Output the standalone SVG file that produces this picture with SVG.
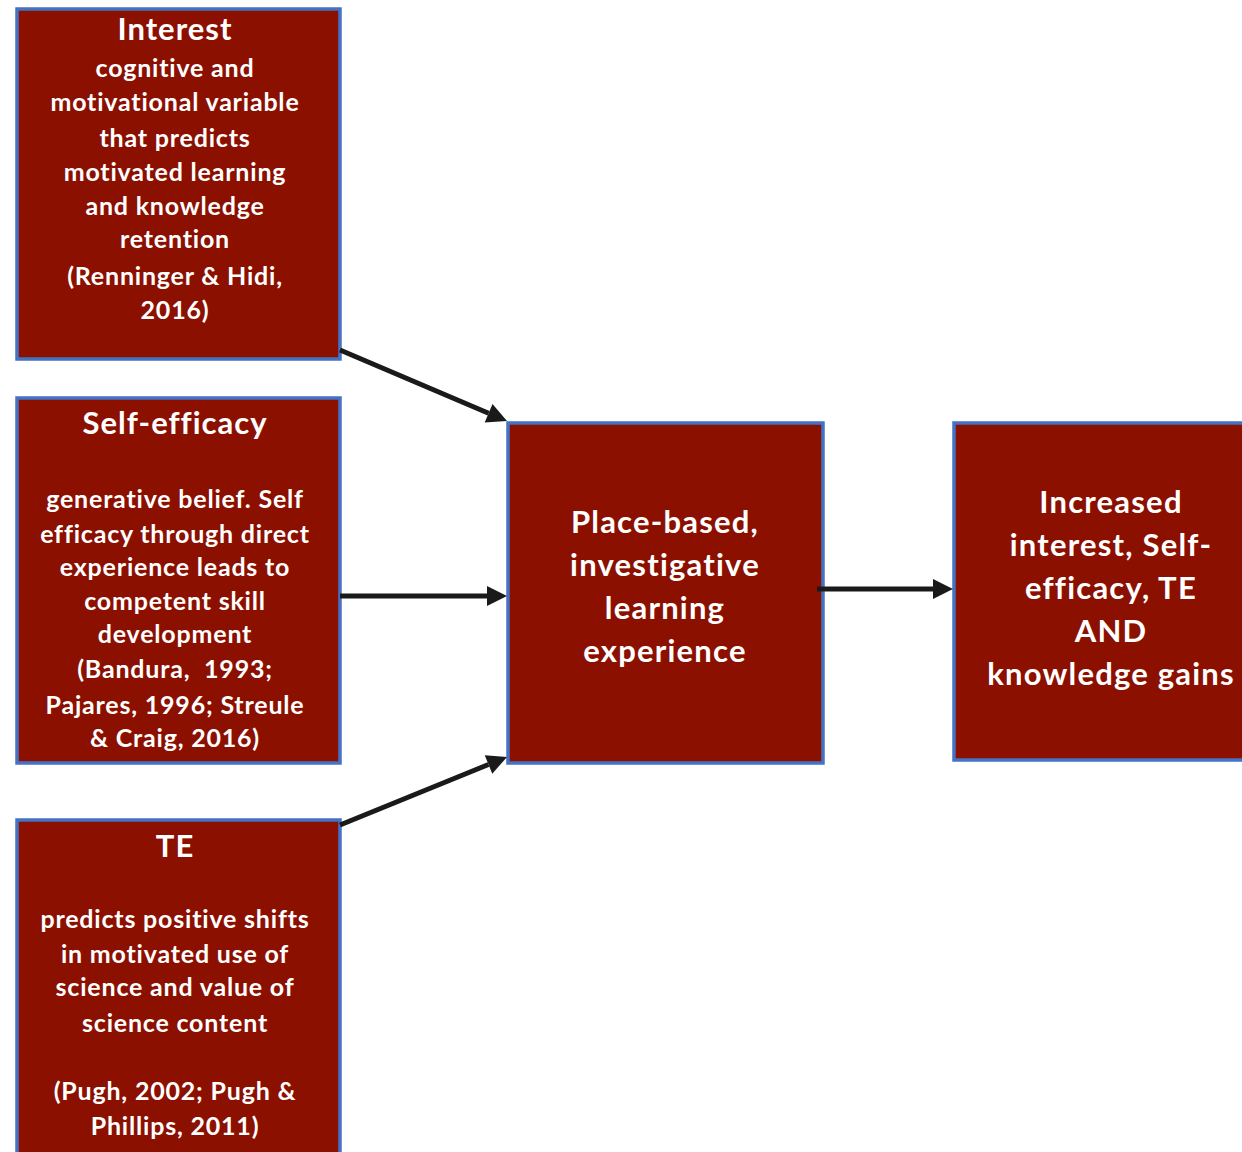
<svg xmlns="http://www.w3.org/2000/svg" width="1242" height="1152" viewBox="0 0 1242 1152">
<defs>
<style>
.box{fill:#8B1000;stroke:#4472C4;stroke-width:3.5}
.t{font-family:Lato,"Open Sans","Liberation Sans",sans-serif;font-weight:700;fill:#ffffff;text-anchor:middle;font-variant-ligatures:none}
.h{font-size:31px;letter-spacing:1px}
.b{font-size:25px;letter-spacing:0.8px}
.m{font-size:31px;letter-spacing:1.2px}
.conn{stroke:#1a1a1a;stroke-width:5;fill:none}
</style>
<marker id="ah" markerUnits="userSpaceOnUse" markerWidth="24" markerHeight="24" viewBox="-1 -12 24 24" refX="0" refY="0" orient="auto">
<path d="M0,-10 L20,0 L0,10 z" fill="#1a1a1a"/>
</marker>
</defs>
<rect width="1242" height="1152" fill="#ffffff"/>
<g id="interest">
<rect class="box" x="17" y="9" width="323" height="350"/>
<text class="t h" x="175" y="40">Interest</text>
<text class="t b" x="175" y="77">cognitive and</text>
<text class="t b" x="175" y="111">motivational variable</text>
<text class="t b" x="175" y="147">that predicts</text>
<text class="t b" x="175" y="181">motivated learning</text>
<text class="t b" x="175" y="215">and knowledge</text>
<text class="t b" x="175" y="248">retention</text>
<text class="t b" x="175" y="285">(Renninger &amp; Hidi,</text>
<text class="t b" x="175" y="319">2016)</text>
</g>
<g id="self-efficacy">
<rect class="box" x="17" y="398" width="323" height="365"/>
<text class="t h" x="175" y="434">Self-efficacy</text>
<text class="t b" x="175" y="508">generative belief. Self</text>
<text class="t b" x="175" y="543">efficacy through direct</text>
<text class="t b" x="175" y="576">experience leads to</text>
<text class="t b" x="175" y="610">competent skill</text>
<text class="t b" x="175" y="643">development</text>
<text class="t b" x="175" y="678" xml:space="preserve">(Bandura,  1993;</text>
<text class="t b" x="175" y="714">Pajares, 1996; Streule</text>
<text class="t b" x="175" y="747">&amp; Craig, 2016)</text>
</g>
<g id="te">
<rect class="box" x="17" y="820" width="323" height="345"/>
<text class="t h" x="175" y="857">TE</text>
<text class="t b" x="175" y="928">predicts positive shifts</text>
<text class="t b" x="175" y="963">in motivated use of</text>
<text class="t b" x="175" y="996">science and value of</text>
<text class="t b" x="175" y="1032">science content</text>
<text class="t b" x="175" y="1100">(Pugh, 2002; Pugh &amp;</text>
<text class="t b" x="175" y="1135">Phillips, 2011)</text>
</g>
<g id="place-based">
<rect class="box" x="508" y="423" width="315" height="340"/>
<text class="t m" x="665" y="533">Place-based,</text>
<text class="t m" x="665" y="576">investigative</text>
<text class="t m" x="665" y="619">learning</text>
<text class="t m" x="665" y="662">experience</text>
</g>
<g id="outcomes">
<rect class="box" x="954" y="423" width="300" height="337"/>
<text class="t m" x="1111" y="513">Increased</text>
<text class="t m" x="1111" y="556">interest, Self-</text>
<text class="t m" x="1111" y="599">efficacy, TE</text>
<text class="t m" x="1111" y="642">AND</text>
<text class="t m" x="1111" y="685">knowledge gains</text>
</g>
<g id="connectors">
<line class="conn" x1="340" y1="350" x2="488.6" y2="413.2" marker-end="url(#ah)"/>
<line class="conn" x1="340" y1="596" x2="487" y2="596" marker-end="url(#ah)"/>
<line class="conn" x1="340" y1="825" x2="488.5" y2="764.5" marker-end="url(#ah)"/>
<line class="conn" x1="817" y1="589" x2="933" y2="589" marker-end="url(#ah)"/>
</g>
</svg>
